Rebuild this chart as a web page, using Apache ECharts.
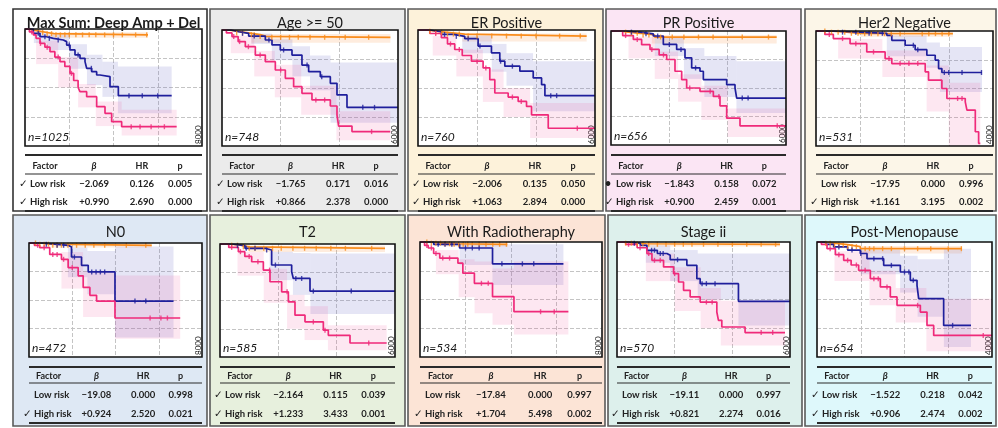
<!DOCTYPE html>
<html><head><meta charset="utf-8">
<script src="https://cdn.jsdelivr.net/npm/echarts@6/dist/echarts.min.js"></script>
<style>html,body{margin:0;padding:0;background:#fff}#c{width:998px;height:428px}</style>
</head><body><div id="c"></div>
<script>
// ---------- DATA ----------
const panelTitles = ['Max Sum: Deep Amp + Del','Age >= 50','ER Positive','PR Positive','Her2 Negative','N0','T2','With Radiotheraphy','Stage ii','Post-Menopause'];
const panelN = ['n=1025','n=748','n=760','n=656','n=531','n=472','n=585','n=534','n=570','n=654'];
const panelXMax = [8000,6000,6000,6000,4000,8000,6000,8000,6000,4000];
const tableHeader = ['Factor','β','HR','p'];
const rowNames = ['Low risk','High risk'];
const lowMark = ['✓','✓','✓','•','','','✓','','','✓'];
const highMark = ['✓','✓','✓','✓','✓','✓','✓','✓','✓','✓'];
const lowBeta = ['−2.069','−1.765','−2.006','−1.843','−17.95','−19.08','−2.164','−17.84','−19.11','−1.522'];
const lowHR = ['0.126','0.171','0.135','0.158','0.000','0.000','0.115','0.000','0.000','0.218'];
const lowP = ['0.005','0.016','0.050','0.072','0.996','0.998','0.039','0.997','0.997','0.042'];
const highBeta = ['+0.990','+0.866','+1.063','+0.900','+1.161','+0.924','+1.233','+1.704','+0.821','+0.906'];
const highHR = ['2.690','2.378','2.894','2.459','3.195','2.520','3.433','5.498','2.274','2.474'];
const highP = ['0.000','0.000','0.000','0.001','0.002','0.021','0.001','0.002','0.016','0.002'];

// Max Sum
const maxsumOrange = [[0,1],[150,0.99],[400,0.98],[700,0.97],[1000,0.96],[1300,0.95],[5560,0.95]];
const maxsumBlue = [[0,1],[377,0.963],[678,0.934],[979,0.92],[1281,0.906],[1733,0.892],[1883,0.863],[2034,0.821],[2260,0.778],[2486,0.749],[2712,0.721],[2787,0.664],[3014,0.635],[3239,0.607],[3390,0.593],[3842,0.507],[4219,0.43],[6629,0.43]];
const maxsumPink = [[0,1],[200,0.975],[377,0.949],[500,0.92],[678,0.877],[900,0.845],[1130,0.806],[1350,0.76],[1582,0.721],[1800,0.68],[2034,0.621],[2200,0.56],[2400,0.5],[2486,0.464],[2787,0.422],[3239,0.336],[3616,0.279],[3917,0.208],[4369,0.165],[6855,0.165]];
const maxsumOrangeBand = [[1000,5560,0.925,0.972]];
const maxsumBlueBand = [[400,1000,0.88,0.98],[1000,2000,0.82,0.95],[2000,2800,0.66,0.87],[2800,3500,0.52,0.78],[3500,4200,0.42,0.72],[4200,6629,0.28,0.68]];
const maxsumPinkBand = [[500,1500,0.7,0.9],[1500,2400,0.5,0.76],[2400,3200,0.33,0.53],[3200,4370,0.17,0.38],[4370,6855,0.09,0.31]];
const maxsumOrangeCens = [600,800,1000,1200,1400,1600,1800,2000,2300,2600,2900,3200,3600,4000,4400,5000,5500];
const maxsumBlueCens = [600,900,1100,1500,2000,2400,3000,4700,5300,6000];
const maxsumPinkCens = [300,700,1000,1500,2100,4800,5200,5700,6300];

// Age >= 50
const ageOrange = [[0,1],[200,0.99],[500,0.975],[900,0.96],[1300,0.945],[1500,0.937],[5740,0.937]];
const ageBlue = [[0,1],[300,0.985],[568,0.971],[909,0.948],[1477,0.914],[1704,0.871],[1988,0.828],[2386,0.784],[2726,0.698],[2954,0.641],[3352,0.598],[3693,0.54],[3920,0.44],[4261,0.333],[6000,0.333]];
const agePink = [[0,1],[150,0.975],[341,0.943],[550,0.9],[795,0.856],[1136,0.784],[1477,0.727],[1818,0.655],[2159,0.583],[2442,0.511],[2726,0.454],[3067,0.397],[3693,0.345],[3920,0.267],[3977,0.172],[4431,0.124],[5737,0.124]];
const ageOrangeBand = [[1000,5740,0.89,0.965]];
const ageBlueBand = [[1000,1700,0.88,0.97],[1700,2400,0.74,0.92],[2400,3000,0.6,0.86],[3000,3700,0.48,0.78],[3700,6000,0.2,0.72]];
const agePinkBand = [[300,1100,0.8,0.95],[1100,1800,0.6,0.82],[1800,2700,0.42,0.7],[2700,3900,0.27,0.52],[3900,5737,0.05,0.3]];
const ageOrangeCens = [500,700,1000,1100,1300,1700,2000,2300,2600,3000,3500,4200,5000];
const ageBlueCens = [700,1100,1600,2100,2900,3400,4800,5200];
const agePinkCens = [400,600,900,1300,2000,3200,3500,5100];

// ER Positive
const erOrange = [[0,1],[300,0.99],[600,0.98],[1000,0.965],[1585,0.948],[5717,0.948]];
const erBlue = [[0,1],[400,0.985],[792,0.962],[1200,0.945],[1585,0.925],[2038,0.861],[2490,0.803],[2773,0.731],[2943,0.688],[3453,0.645],[3906,0.587],[4189,0.529],[4302,0.434],[6000,0.434]];
const erPink = [[0,1],[400,0.97],[792,0.934],[1000,0.88],[1245,0.832],[1500,0.78],[1811,0.731],[2207,0.673],[2434,0.572],[2604,0.457],[3057,0.422],[3396,0.384],[3679,0.341],[3849,0.269],[4415,0.153],[6000,0.153]];
const erOrangeBand = [[1500,5717,0.9,0.97]];
const erBlueBand = [[1500,2500,0.8,0.95],[2500,3000,0.64,0.88],[3000,3900,0.52,0.8],[3900,6000,0.3,0.73]];
const erPinkBand = [[500,1300,0.78,0.95],[1300,2200,0.6,0.83],[2200,2900,0.38,0.66],[2900,3800,0.25,0.5],[3800,6000,0.07,0.37]];
const erOrangeCens = [400,600,800,1000,1200,1400,1700,2000,2500,3000,3500,4000,4800,5500];
const erBlueCens = [900,1300,1700,2100,2800,3200,4500,4700];
const erPinkCens = [600,1100,1400,2000,2300,3200,3500,5400];

// PR Positive
const prOrange = [[0,1],[300,0.99],[600,0.98],[1000,0.965],[1500,0.947],[5680,0.947]];
const prBlue = [[0,1],[500,0.99],[1000,0.975],[1451,0.956],[1794,0.882],[2251,0.838],[2537,0.765],[2766,0.676],[3051,0.647],[3166,0.574],[3966,0.529],[4252,0.5],[4309,0.412],[6000,0.412]];
const prPink = [[0,1],[400,0.96],[766,0.926],[1050,0.88],[1337,0.838],[1650,0.79],[1909,0.75],[2194,0.647],[2423,0.574],[2594,0.5],[3051,0.471],[3509,0.426],[3737,0.344],[3966,0.235],[4423,0.168],[6000,0.168]];
const prOrangeBand = [[1400,5680,0.89,0.965]];
const prBlueBand = [[1500,2500,0.78,0.94],[2500,3200,0.58,0.85],[3200,4300,0.42,0.78],[4300,6000,0.28,0.735]];
const prPinkBand = [[600,1500,0.76,0.95],[1500,2300,0.58,0.82],[2300,3100,0.38,0.62],[3100,4000,0.22,0.52],[4000,6000,0.07,0.32]];
const prOrangeCens = [500,700,900,1100,1300,1700,2100,2500,3000,3500,4500,5400];
const prBlueCens = [700,1200,1600,2000,2400,2900,4500,4700];
const prPinkCens = [500,900,1400,1800,2700,3400,3700,5700];

// Her2 Negative
const her2Orange = [[0,1],[300,0.99],[700,0.98],[1000,0.977],[3094,0.977]];
const her2Blue = [[0,1],[400,0.99],[1000,0.98],[1600,0.962],[1713,0.919],[2015,0.876],[2241,0.838],[2505,0.789],[2694,0.746],[2770,0.673],[2845,0.639],[3751,0.639]];
const her2Pink = [[0,1],[200,0.97],[392,0.934],[770,0.89],[1147,0.818],[1562,0.76],[1713,0.717],[2468,0.645],[2543,0.572],[2845,0.5],[2958,0.413],[3373,0.384],[3411,0.312],[3600,0.124],[3675,0.023],[3713,0.023]];
const her2OrangeBand = [[1000,3094,0.95,0.99]];
const her2BlueBand = [[1600,2500,0.78,0.96],[2500,2800,0.68,0.9],[2800,3751,0.47,0.86]];
const her2PinkBand = [[500,1500,0.76,0.93],[1500,2500,0.6,0.83],[2500,3000,0.3,0.7],[3000,3713,0.0,0.55]];
const her2OrangeCens = [200,350,500,650,800,950,1100,1250,1400,1550,1700,1900,2400,2550,2700,2850,3000];
const her2BlueCens = [600,900,1200,1500,2200,2300,2900,3000,3300,3740];
const her2PinkCens = [300,600,900,1300,1650,1900,2100,2300,3200,3300];

// N0
const n0Orange = [[0,1],[500,0.99],[1000,0.98],[5677,0.98]];
const n0Blue = [[0,1],[600,0.99],[1200,0.98],[1810,0.965],[1965,0.877],[2429,0.804],[2738,0.746],[3976,0.491],[6683,0.491]];
const n0Pink = [[0,1],[250,0.98],[495,0.959],[959,0.9],[1501,0.857],[1810,0.784],[2274,0.712],[2506,0.61],[2816,0.541],[3125,0.491],[3976,0.342],[6993,0.342]];
const n0OrangeBand = [[1000,5677,0.96,0.995]];
const n0BlueBand = [[1800,2700,0.7,0.96],[2700,3976,0.55,0.93],[3976,6683,0.17,0.97]];
const n0PinkBand = [[1500,2500,0.6,0.92],[2500,3976,0.35,0.75],[3976,6993,0.16,0.716]];
const n0OrangeCens = [300,500,700,900,1100,1300,1500,1800,2200,2600,3000,3500,4500,5400];
const n0BlueCens = [800,1300,1600,2100,2900,3100,3300,3500,4900,5400];
const n0PinkCens = [400,700,1100,1300,1600,2000,5600,6100,6400];

// T2
const t2Orange = [[0,1],[300,0.99],[700,0.975],[1000,0.962],[5657,0.962]];
const t2Blue = [[0,1],[400,0.985],[857,0.962],[1543,0.947],[1771,0.814],[2457,0.754],[2514,0.695],[3086,0.583],[6000,0.583]];
const t2Pink = [[0,1],[300,0.97],[629,0.932],[850,0.89],[1086,0.843],[1486,0.769],[1714,0.666],[2114,0.577],[2343,0.488],[2571,0.37],[2914,0.311],[3543,0.237],[3714,0.192],[4457,0.124],[5714,0.124]];
const t2OrangeBand = [[1000,5657,0.93,0.985]];
const t2BlueBand = [[1700,2500,0.68,0.93],[2500,3100,0.55,0.92],[3100,6000,0.38,0.917]];
const t2PinkBand = [[600,1500,0.72,0.93],[1500,2300,0.48,0.78],[2300,2900,0.25,0.55],[2900,3700,0.15,0.45],[3700,5714,0.06,0.28]];
const t2OrangeCens = [400,600,800,1000,1200,1500,1800,2100,2500,2900,3300,3800,4300,5200];
const t2BlueCens = [600,900,1200,1600,1900,2600,2800,3200,4500];
const t2PinkCens = [400,700,1000,1300,1700,2300,3200,3600,5100];

// With Radiotheraphy
const radioOrange = [[0,1],[500,0.99],[1000,0.985],[1500,0.98],[3840,0.98]];
const radioBlue = [[0,1],[600,0.98],[1739,0.948],[3188,0.81],[6304,0.81]];
const radioPink = [[0,1],[200,0.97],[362,0.948],[600,0.9],[869,0.86],[1667,0.816],[1884,0.729],[2391,0.641],[3188,0.525],[4130,0.394],[6522,0.394]];
const radioOrangeBand = [[1000,3840,0.96,0.995]];
const radioBlueBand = [[1739,3188,0.8,0.99],[3188,6304,0.627,0.98]];
const radioPinkBand = [[700,1700,0.72,0.93],[1700,2400,0.52,0.85],[2400,3188,0.38,0.83],[3188,4130,0.28,0.77],[4130,6522,0.195,0.83]];
const radioOrangeCens = [300,500,700,900,1100,1300,1500,1700,1900,2100,2300,2600,2900,3200,3500,3800];
const radioBlueCens = [800,1100,1400,2000,2300,2600,3600,4500,5000];
const radioPinkCens = [300,500,700,1000,1300,2700,3000,5300,5900];

// Stage ii
const stageOrange = [[0,1],[300,0.99],[700,0.985],[1000,0.98],[5654,0.98]];
const stageBlue = [[0,1],[400,0.99],[808,0.971],[1038,0.928],[1400,0.9],[1731,0.884],[1846,0.846],[2423,0.797],[2769,0.681],[2885,0.638],[4212,0.484],[6000,0.484]];
const stagePink = [[0,1],[300,0.98],[700,0.95],[1038,0.899],[1212,0.841],[1615,0.783],[1962,0.725],[2135,0.652],[2308,0.58],[2538,0.522],[2885,0.478],[3462,0.391],[3519,0.319],[3635,0.261],[4442,0.212],[5827,0.212]];
const stageOrangeBand = [[1000,5654,0.96,0.995]];
const stageBlueBand = [[1000,1846,0.82,0.97],[1846,2800,0.66,0.93],[2800,4212,0.5,0.9],[4212,6000,0.275,0.9]];
const stagePinkBand = [[1000,2000,0.66,0.9],[2000,2900,0.4,0.78],[2900,3600,0.25,0.6],[3600,5827,0.1,0.49]];
const stageOrangeCens = [300,500,700,900,1100,1400,1700,2000,2300,2600,3000,3500,4000,4500,5000,5500];
const stageBlueCens = [600,1200,1300,1500,1600,2100,2950,3100,3400];
const stagePinkCens = [400,800,1100,1300,1500,2000,3100,3300,5000,5400];

// Post-Menopause
const postOrange = [[0,1],[200,0.99],[381,0.977],[700,0.96],[990,0.942],[3314,0.942]];
const postBlue = [[0,1],[200,0.98],[381,0.957],[700,0.93],[990,0.9],[1143,0.855],[1524,0.797],[1905,0.739],[2133,0.667],[2286,0.623],[2324,0.507],[2895,0.275],[3520,0.275]];
const postPink = [[0,1],[100,0.98],[229,0.942],[420,0.89],[610,0.841],[780,0.8],[952,0.754],[1219,0.681],[1448,0.609],[1676,0.522],[1829,0.449],[2362,0.391],[2514,0.275],[2667,0.188],[4000,0.188]];
const postOrangeBand = [[990,3314,0.9,0.965]];
const postBlueBand = [[1000,1900,0.72,0.93],[1900,2300,0.56,0.88],[2300,2900,0.35,0.85],[2900,3520,0.087,0.942]];
const postPinkBand = [[400,1200,0.66,0.92],[1200,1800,0.45,0.75],[1800,2500,0.3,0.6],[2500,4000,0.05,0.507]];
const postOrangeCens = [200,300,400,500,600,700,800,900,1100,1200,1300,1500,1700,2000,2300,2600,3000,3300];
const postBlueCens = [500,800,1000,1300,1500,1700,2000,2100,2200,3100];
const postPinkCens = [300,500,700,900,1100,1300,1400,1600,2300,3800];

// ---------- LAYOUT / STYLE ----------
const panelBox = [[13,9,207,211],[210,9,405,211],[408,9,603,211],[606,9,801,211],[805,9,996,211],
                  [13,215,207,426],[210,215,405,426],[408,215,605,426],[608,215,802,426],[805,215,996,426]];
const plotBox = [[25,29,202,146],[222,30,398,146],[418,30,595,146],[611,31,786,145],[816,31,993,146],
                 [29,243,202,357],[220,244,395,357],[420,242,602,357],[617,242,790,357],[817,242,992,357]];
const panelBg = ['#ffffff','#ebebeb','#fdf2da','#fbe5f4','#fcf6e8','#dee8f4','#e7f0dd','#fce4d6','#ddf0ec','#def8fb'];
const rowYs = [[23,155,166,174,184,202,211],[232,367,376,383,395,414,423]];
const COL_O = '#f98c1c', COL_B = '#1f1f9c', COL_P = '#ef2a7a';
const BAND_O = 'rgba(250,150,70,0.18)', BAND_B = 'rgba(110,110,200,0.18)', BAND_P = 'rgba(240,70,150,0.13)';
const FONT = 'Lato, "DejaVu Sans", sans-serif';

const curveSets = [
  [maxsumOrange,maxsumBlue,maxsumPink,maxsumOrangeBand,maxsumBlueBand,maxsumPinkBand,maxsumOrangeCens,maxsumBlueCens,maxsumPinkCens],
  [ageOrange,ageBlue,agePink,ageOrangeBand,ageBlueBand,agePinkBand,ageOrangeCens,ageBlueCens,agePinkCens],
  [erOrange,erBlue,erPink,erOrangeBand,erBlueBand,erPinkBand,erOrangeCens,erBlueCens,erPinkCens],
  [prOrange,prBlue,prPink,prOrangeBand,prBlueBand,prPinkBand,prOrangeCens,prBlueCens,prPinkCens],
  [her2Orange,her2Blue,her2Pink,her2OrangeBand,her2BlueBand,her2PinkBand,her2OrangeCens,her2BlueCens,her2PinkCens],
  [n0Orange,n0Blue,n0Pink,n0OrangeBand,n0BlueBand,n0PinkBand,n0OrangeCens,n0BlueCens,n0PinkCens],
  [t2Orange,t2Blue,t2Pink,t2OrangeBand,t2BlueBand,t2PinkBand,t2OrangeCens,t2BlueCens,t2PinkCens],
  [radioOrange,radioBlue,radioPink,radioOrangeBand,radioBlueBand,radioPinkBand,radioOrangeCens,radioBlueCens,radioPinkCens],
  [stageOrange,stageBlue,stagePink,stageOrangeBand,stageBlueBand,stagePinkBand,stageOrangeCens,stageBlueCens,stagePinkCens],
  [postOrange,postBlue,postPink,postOrangeBand,postBlueBand,postPinkBand,postOrangeCens,postBlueCens,postPinkCens]
];

function stepValue(curve, t) {
  let v = curve[0][1];
  for (const p of curve) { if (p[0] <= t) v = p[1]; else break; }
  return v;
}
function bandRender(color) {
  return function (params, api) {
    const a = api.coord([api.value(0), api.value(3)]);
    const b = api.coord([api.value(1), api.value(2)]);
    return { type: 'rect', shape: { x: a[0], y: a[1], width: b[0] - a[0], height: b[1] - a[1] }, style: { fill: color } };
  };
}

const grids = [], xAxes = [], yAxes = [], series = [], graphics = [];
for (let i = 0; i < 10; i++) {
  const [x0, y0, x1, y1] = panelBox[i];
  const [pl, pt, pr, pb] = plotBox[i];
  const W = pr - pl;
  const ry = rowYs[i < 5 ? 0 : 1];
  const xmax = panelXMax[i];
  graphics.push({ type: 'rect', z: -10, shape: { x: x0, y: y0, width: x1 - x0, height: y1 - y0 },
    style: { fill: panelBg[i], stroke: i === 0 ? '#333' : '#5a5a5a', lineWidth: 1.6 } });
  // plot frame on top
  graphics.push({ type: 'rect', z: 40, silent: true, shape: { x: pl, y: pt, width: W, height: pb - pt },
    style: { fill: null, stroke: '#111', lineWidth: 1.6 } });
  graphics.push({ type: 'text', z: 50, x: (pl + pr) / 2, y: ry[0],
    style: { text: panelTitles[i], fill: '#1a1a1a', font: (i === 0 ? 'bold 14.5px ' : '14.5px ') + FONT, textAlign: 'center', textVerticalAlign: 'middle' } });
  graphics.push({ type: 'text', z: 50, x: pl + 3, y: pb - 9,
    style: { text: panelN[i], fill: '#1a1a1a', font: 'italic 12px ' + FONT, textAlign: 'left', textVerticalAlign: 'middle' } });
  const lines = [[ry[1], 2], [ry[3], 1.2], [ry[6], 2]];
  lines.forEach(([yy, lw]) => graphics.push({ type: 'line', z: 50, shape: { x1: pl, y1: yy, x2: pr, y2: yy }, style: { stroke: '#2a2a2a', lineWidth: lw } }));
  const colX = [pl + 0.113 * W, pl + 0.39 * W, pl + 0.66 * W, pl + 0.876 * W];
  tableHeader.forEach((h, k) => graphics.push({ type: 'text', z: 50, x: colX[k], y: ry[2],
    style: { text: h, fill: '#222', font: (k === 1 ? 'italic bold 9.5px ' : 'bold 9px ') + FONT, textAlign: 'center', textVerticalAlign: 'middle' } }));
  const rows = [[lowMark[i], rowNames[0], lowBeta[i], lowHR[i], lowP[i], ry[4]], [highMark[i], rowNames[1], highBeta[i], highHR[i], highP[i], ry[5]]];
  rows.forEach(([mk, nm, b, hr, p, yy]) => {
    if (mk) graphics.push({ type: 'text', z: 50, x: pl - 6, y: yy, style: { text: mk, fill: '#222', font: 'bold 10.5px ' + FONT, textAlign: 'left', textVerticalAlign: 'middle' } });
    graphics.push({ type: 'text', z: 50, x: pl + 5, y: yy, style: { text: nm, fill: '#222', font: 'bold 9.5px ' + FONT, textAlign: 'left', textVerticalAlign: 'middle' } });
    [b, hr, p].forEach((v, k) => graphics.push({ type: 'text', z: 50, x: colX[k + 1], y: yy,
      style: { text: v, fill: '#222', font: 'bold 9.5px ' + FONT, textAlign: 'center', textVerticalAlign: 'middle' } }));
  });

  grids.push({ left: pl, top: pt, width: W, height: pb - pt, show: true, backgroundColor: '#ffffff', borderWidth: 0, containLabel: false, outerBoundsMode: 'none' });
  xAxes.push({ gridIndex: i, type: 'value', min: 0, max: xmax, interval: xmax === 4000 ? 1000 : 2000,
    axisLine: { show: false }, axisTick: { show: false },
    splitLine: { show: true, showMinLine: false, showMaxLine: false, lineStyle: { type: 'dashed', color: '#c4c4c4', width: 1 } },
    axisLabel: { inside: true, rotate: 90, showMinLabel: false, showMaxLabel: true, align: 'left', verticalAlign: 'bottom', margin: 2,
      fontSize: 8, fontFamily: FONT, color: '#222', formatter: v => (v === xmax ? String(v) : '') } });
  yAxes.push({ gridIndex: i, type: 'value', min: 0, max: 1, interval: 0.25,
    axisLine: { show: false }, axisTick: { show: false }, axisLabel: { show: false },
    splitLine: { show: true, showMinLine: false, showMaxLine: false, lineStyle: { type: 'dashed', color: '#c4c4c4', width: 1 } } });

  const cs = curveSets[i];
  const cols = [COL_O, COL_B, COL_P], bands = [BAND_O, BAND_B, BAND_P];
  for (let g = 0; g < 3; g++) {
    series.push({ type: 'custom', xAxisIndex: i, yAxisIndex: i, data: cs[3 + g], renderItem: bandRender(bands[g]),
      encode: { x: [0, 1], y: [2, 3] }, clip: true, silent: true, z: 1 });
  }
  for (let g = 0; g < 3; g++) {
    series.push({ type: 'line', xAxisIndex: i, yAxisIndex: i, data: cs[g], step: 'end', symbol: 'none', silent: true,
      lineStyle: { color: cols[g], width: 1.7 }, z: 3 + g });
    series.push({ type: 'scatter', xAxisIndex: i, yAxisIndex: i, data: cs[6 + g].map(t => [t, stepValue(cs[g], t)]),
      symbol: 'rect', symbolSize: [1.4, 5], itemStyle: { color: cols[g] }, silent: true, z: 6 });
  }
}

const chart = echarts.init(document.getElementById('c'), null, { renderer: 'canvas' });
chart.setOption({ animation: false, backgroundColor: '#ffffff', grid: grids, xAxis: xAxes, yAxis: yAxes, series: series, graphic: graphics });
</script></body></html>
